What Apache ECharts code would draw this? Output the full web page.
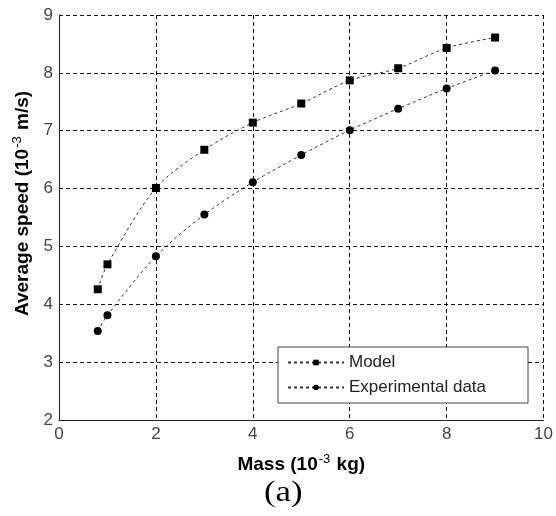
<!DOCTYPE html>
<html>
	<head>
		<meta charset="utf-8" />
		<title>Average speed vs mass</title>
		<style>
			html, body { margin: 0; padding: 0; background: #fff; }
			#chart { width: 556px; height: 516px; }
		</style>
	</head>
	<body>
		<div id="chart"></div>
		<script src="https://cdn.jsdelivr.net/npm/echarts@6/dist/echarts.min.js"></script>
		<script type="text/javascript">
			// values
			const mass = [0.8, 1, 2, 3, 4, 5, 6, 7, 8, 9];
			const model = [4.26, 4.69, 6.01, 6.67, 7.14, 7.47, 7.87, 8.08, 8.43, 8.61];
			const experimental = [3.54, 3.81, 4.83, 5.55, 6.11, 6.58, 7.01, 7.38, 7.73, 8.04];

			const pairs = (xs, ys) => xs.map((x, i) => [x, ys[i]]);

			const gridLine = { show: true, lineStyle: { color: '#111', type: [4, 3], width: 1 } };
			const tickLabel = { color: '#444', fontSize: 17, fontFamily: 'Liberation Sans, Arial' };
			const nameRich = {
				b: { fontSize: 19, fontWeight: 'bold', fontFamily: 'Liberation Sans, Arial', color: '#000', verticalAlign: 'bottom' },
				sup: { fontSize: 13, fontFamily: 'Liberation Sans, Arial', color: '#000', verticalAlign: 'bottom', padding: [0, 1, 8, 1] },
			};
			const lineStyle = { color: '#333', width: 1, type: [3, 3] };

			const chart = echarts.init(document.getElementById('chart'));
			chart.setOption({
				animation: false,
				backgroundColor: '#fff',
				grid: { left: 59, right: 10, top: 15, bottom: 96, containLabel: false },
				legend: {
					orient: 'vertical',
					left: 278,
					top: 347,
					padding: [7, 42, 7, 9],
					itemGap: 8,
					itemWidth: 56,
					itemHeight: 7,
					backgroundColor: '#fff',
					borderColor: '#444',
					borderWidth: 1,
					textStyle: { color: '#222', fontSize: 17, fontFamily: 'Liberation Sans, Arial' },
					data: ['Model', 'Experimental data'],
				},
				xAxis: {
					type: 'value',
					min: 0,
					max: 10,
					interval: 2,
					name: '{b|Mass (10}{sup|-3}{b| kg)}',
					nameLocation: 'middle',
					nameGap: 33,
					nameTextStyle: { rich: nameRich },
					axisLine: { show: true, lineStyle: { color: '#222', width: 1 } },
					axisTick: { show: false },
					axisLabel: { ...tickLabel, margin: 6 },
					splitLine: gridLine,
				},
				yAxis: {
					type: 'value',
					min: 2,
					max: 9,
					interval: 1,
					name: '{b|Average speed (10}{sup|-3}{b| m/s)}',
					nameLocation: 'middle',
					nameGap: 27,
					nameTextStyle: { rich: nameRich, padding: [0, 0, 0, 28] },
					axisLine: { show: true, lineStyle: { color: '#222', width: 1 } },
					axisTick: { show: false },
					axisLabel: { ...tickLabel, margin: 6 },
					splitLine: gridLine,
				},
				series: [
					{
						name: 'Model',
						type: 'line',
						data: pairs(mass, model),
						smooth: 0.3,
						symbol: 'rect',
						symbolSize: 8,
						itemStyle: { color: '#000' },
						lineStyle: lineStyle,
					},
					{
						name: 'Experimental data',
						type: 'line',
						data: pairs(mass, experimental),
						smooth: 0.3,
						symbol: 'circle',
						symbolSize: 8,
						itemStyle: { color: '#000' },
						lineStyle: lineStyle,
					},
				],
				graphic: [
					{
						type: 'text',
						left: 264,
						top: 479,
						scaleX: 1.2,
						style: { text: '(a)', fontSize: 29, fontFamily: 'Liberation Serif, Times New Roman', fill: '#000' },
					},
				],
			});
		</script>
	</body>
</html>
